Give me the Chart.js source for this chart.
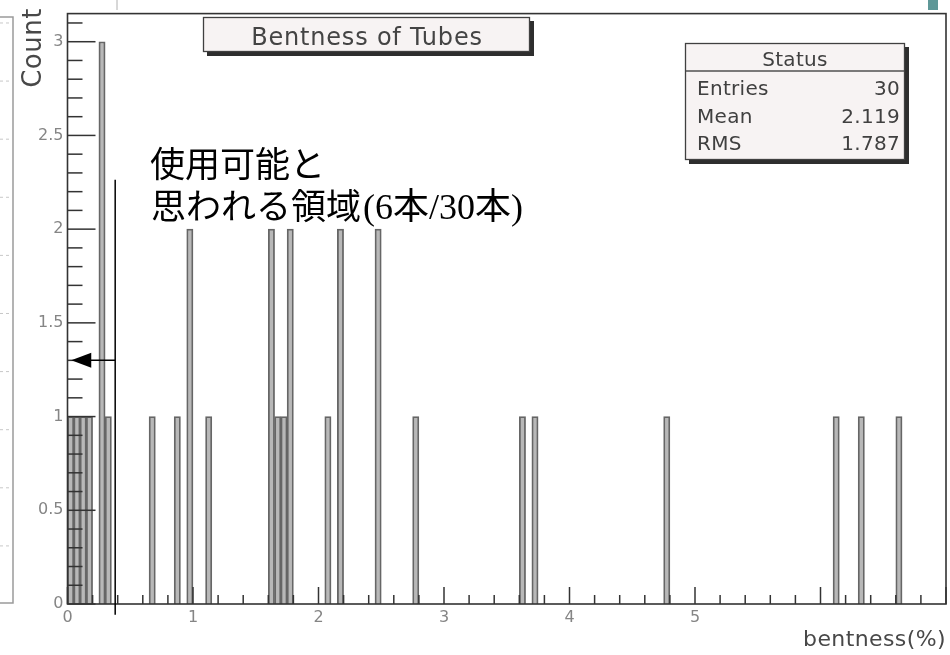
<!DOCTYPE html>
<html>
<head>
<meta charset="utf-8">
<title>Bentness of Tubes</title>
<script src="https://cdn.jsdelivr.net/npm/chart.js@4/dist/chart.umd.min.js"></script>
<style>
  html, body { margin: 0; padding: 0; background: #ffffff; }
  canvas { display: block; }
</style>
</head>
<body>
<canvas id="hist" width="950" height="655"></canvas>
<script>
// Bentness histogram, bins of 0.05 % from 0 to 7 %: centre of each filled bin and its tube count
const binCenters = [0.025, 0.075, 0.125, 0.175, 0.275, 0.325, 0.675, 0.875, 0.975, 1.125,
                    1.625, 1.675, 1.725, 1.775, 2.075, 2.175, 2.475, 2.775, 3.625, 3.725,
                    4.775, 6.125, 6.325, 6.625];
const tubeCounts = [1, 1, 1, 1, 3, 1, 1, 1, 2, 1,
                    2, 1, 1, 2, 1, 2, 2, 1, 1, 1,
                    1, 1, 1, 1];

const xTickLabels = ['0', '1', '2', '3', '4', '5'];
const yTickLabels = ['0', '0.5', '1', '1.5', '2', '2.5', '3'];

const histTitle = 'Bentness of Tubes';
const xTitle = 'bentness(%)';
const yTitle = 'Count';

const statsHeader = 'Status';
const statsNames = ['Entries', 'Mean', 'RMS'];
const statsValues = ['30', '2.119', '1.787'];

const noteLine1 = '使用可能と';
const noteLine2 = '思われる領域';
const noteCount = '(6本/30本)';
const usableLimit = 0.38;   // % : upper edge of the usable region
const arrowLevel = 1.3;     // count level of the arrow

const SANS = '"DejaVu Sans", "Liberation Sans", sans-serif';

function line(ctx, x1, y1, x2, y2) {
  ctx.beginPath();
  ctx.moveTo(x1, y1);
  ctx.lineTo(x2, y2);
  ctx.stroke();
}

function shadowBox(ctx, l, t, w, h, fill) {
  ctx.fillStyle = '#2e2e2e';
  ctx.fillRect(l + 4, t + 4, w, h);
  ctx.fillStyle = fill;
  ctx.fillRect(l, t, w, h);
  ctx.strokeStyle = '#404040';
  ctx.lineWidth = 1.3;
  ctx.strokeRect(l + 0.5, t + 0.5, w - 1, h - 1);
}

// Background pieces around the pad: edge of the neighbouring pad and the top strip
const backdrop = {
  id: 'backdrop',
  beforeDraw(chart) {
    const { ctx } = chart;
    ctx.save();
    ctx.fillStyle = '#ffffff';
    ctx.fillRect(0, 0, chart.width, chart.height);
    ctx.strokeStyle = '#9a9a9a';
    ctx.lineWidth = 1.5;
    ctx.beginPath();
    ctx.moveTo(0, 17); ctx.lineTo(13, 17); ctx.lineTo(13, 603); ctx.lineTo(0, 603);
    ctx.stroke();
    ctx.strokeStyle = '#c8c8c8';
    ctx.lineWidth = 1;
    ctx.setLineDash([3, 3]);
    const ys = chart.scales.y;
    for (let k = 1; k <= 10; k++) {
      const py = ys.getPixelForValue(k * 0.31);
      line(ctx, 0, py, 11, py);
    }
    ctx.setLineDash([]);
    ctx.strokeStyle = '#b0b0b0';
    line(ctx, 117, 0, 117, 10);
    ctx.fillStyle = '#5f9898';
    ctx.fillRect(928, 0, 10, 10);
    ctx.restore();
  }
};

// ROOT-style frame with inward ticks, boxes and the note
const frameTicks = {
  id: 'frameTicks',
  afterDatasetsDraw(chart) {
    const { ctx, chartArea: a, scales: { x, y } } = chart;
    ctx.save();
    ctx.strokeStyle = '#333333';
    ctx.lineWidth = 1.6;
    ctx.strokeRect(a.left, a.top, a.right - a.left, a.bottom - a.top);
    ctx.lineWidth = 1.5;
    for (let k = 0; k <= 35; k++) {
      const px = x.getPixelForValue(k * 0.2);
      line(ctx, px, a.bottom, px, a.bottom - (k % 5 === 0 ? 17 : 9));
    }
    for (let k = 0; k <= 31; k++) {
      const py = y.getPixelForValue(k * 0.1);
      line(ctx, a.left, py, a.left + (k % 5 === 0 ? 28 : 15), py);
    }
    ctx.restore();
  },
  afterDraw(chart) {
    const { ctx, scales: { x, y } } = chart;
    ctx.save();

    // title box
    shadowBox(ctx, 203, 17, 327, 35, '#f7f3f3');
    ctx.fillStyle = '#444444';
    ctx.font = '24px ' + SANS;
    ctx.letterSpacing = '0.8px';
    ctx.textAlign = 'center';
    ctx.textBaseline = 'alphabetic';
    ctx.fillText(histTitle, 367, 45);

    // statistics box
    shadowBox(ctx, 685, 43, 220, 117, '#f7f3f3');
    ctx.strokeStyle = '#505050';
    ctx.lineWidth = 1.3;
    line(ctx, 686, 71, 904, 71);
    ctx.fillStyle = '#404040';
    ctx.font = '20px ' + SANS;
    ctx.letterSpacing = '0.3px';
    ctx.textAlign = 'center';
    ctx.fillText(statsHeader, 795, 66);
    statsNames.forEach((name, i) => {
      const by = 95 + i * 27.5;
      ctx.textAlign = 'left';
      ctx.fillText(name, 697, by);
      ctx.textAlign = 'right';
      ctx.fillText(statsValues[i], 900, by);
    });

    // axis titles
    ctx.fillStyle = '#484848';
    ctx.font = '22px ' + SANS;
    ctx.letterSpacing = '0.4px';
    ctx.textAlign = 'right';
    ctx.fillText(xTitle, 946, 646);
    ctx.save();
    ctx.translate(41, 48);
    ctx.rotate(-Math.PI / 2);
    ctx.textAlign = 'center';
    ctx.font = '26px ' + SANS;
    ctx.letterSpacing = '0.5px';
    ctx.fillText(yTitle, 0, 0);
    ctx.restore();

    // note on the usable region
    ctx.letterSpacing = '0px';
    ctx.fillStyle = '#000000';
    ctx.textAlign = 'left';
    ctx.font = '35px "Noto Sans CJK JP", sans-serif';
    ctx.fillText(noteLine1, 150, 177);
    ctx.fillText(noteLine2, 151, 219);
    const w2 = ctx.measureText(noteLine2).width;
    ctx.font = '36px "Liberation Serif", "Noto Sans CJK JP", serif';
    ctx.fillText(noteCount, 153 + w2, 219);

    const lx = x.getPixelForValue(usableLimit);
    ctx.strokeStyle = '#000000';
    ctx.lineWidth = 1.5;
    line(ctx, lx, y.getPixelForValue(2.263), lx, y.getPixelForValue(-0.058));
    const ay = y.getPixelForValue(arrowLevel);
    const tip = x.getPixelForValue(0.03);
    line(ctx, lx, ay, tip + 12, ay);
    ctx.fillStyle = '#000000';
    ctx.beginPath();
    ctx.moveTo(tip, ay);
    ctx.lineTo(tip + 20, ay - 7.5);
    ctx.lineTo(tip + 20, ay + 7.5);
    ctx.closePath();
    ctx.fill();

    ctx.restore();
  }
};

new Chart(document.getElementById('hist'), {
  type: 'bar',
  data: {
    datasets: [{
      data: binCenters.map((c, i) => ({ x: c, y: tubeCounts[i] })),
      backgroundColor: '#b8b8b8',
      borderColor: '#666666',
      borderWidth: 1.8,
      borderSkipped: 'start',
      barPercentage: 1,
      categoryPercentage: 1
    }]
  },
  options: {
    responsive: false,
    animation: false,
    events: [],
    layout: { padding: { left: 0, right: 3, top: 10, bottom: 0 } },
    plugins: { legend: { display: false }, tooltip: { enabled: false } },
    scales: {
      x: {
        type: 'linear',
        min: 0,
        max: 7,
        offset: false,
        grid: { display: false, drawTicks: false },
        border: { display: false },
        ticks: {
          stepSize: 1,
          autoSkip: false,
          maxRotation: 0,
          padding: 4,
          color: '#858585',
          font: { family: SANS, size: 16 },
          callback: (v) => xTickLabels[v] ?? ''
        },
        afterFit: (s) => { s.height = 51; }
      },
      y: {
        min: 0,
        max: 3.15,
        grid: { display: false, drawTicks: false },
        border: { display: false },
        ticks: {
          stepSize: 0.5,
          padding: 4,
          color: '#858585',
          font: { family: SANS, size: 16 },
          callback: (v) => {
            const k = Math.round(v * 2);
            return Math.abs(v * 2 - k) < 1e-6 && yTickLabels[k] ? yTickLabels[k] : '';
          }
        },
        afterFit: (s) => { s.width = 67.5; }
      }
    }
  },
  plugins: [backdrop, frameTicks]
});
</script>
</body>
</html>
